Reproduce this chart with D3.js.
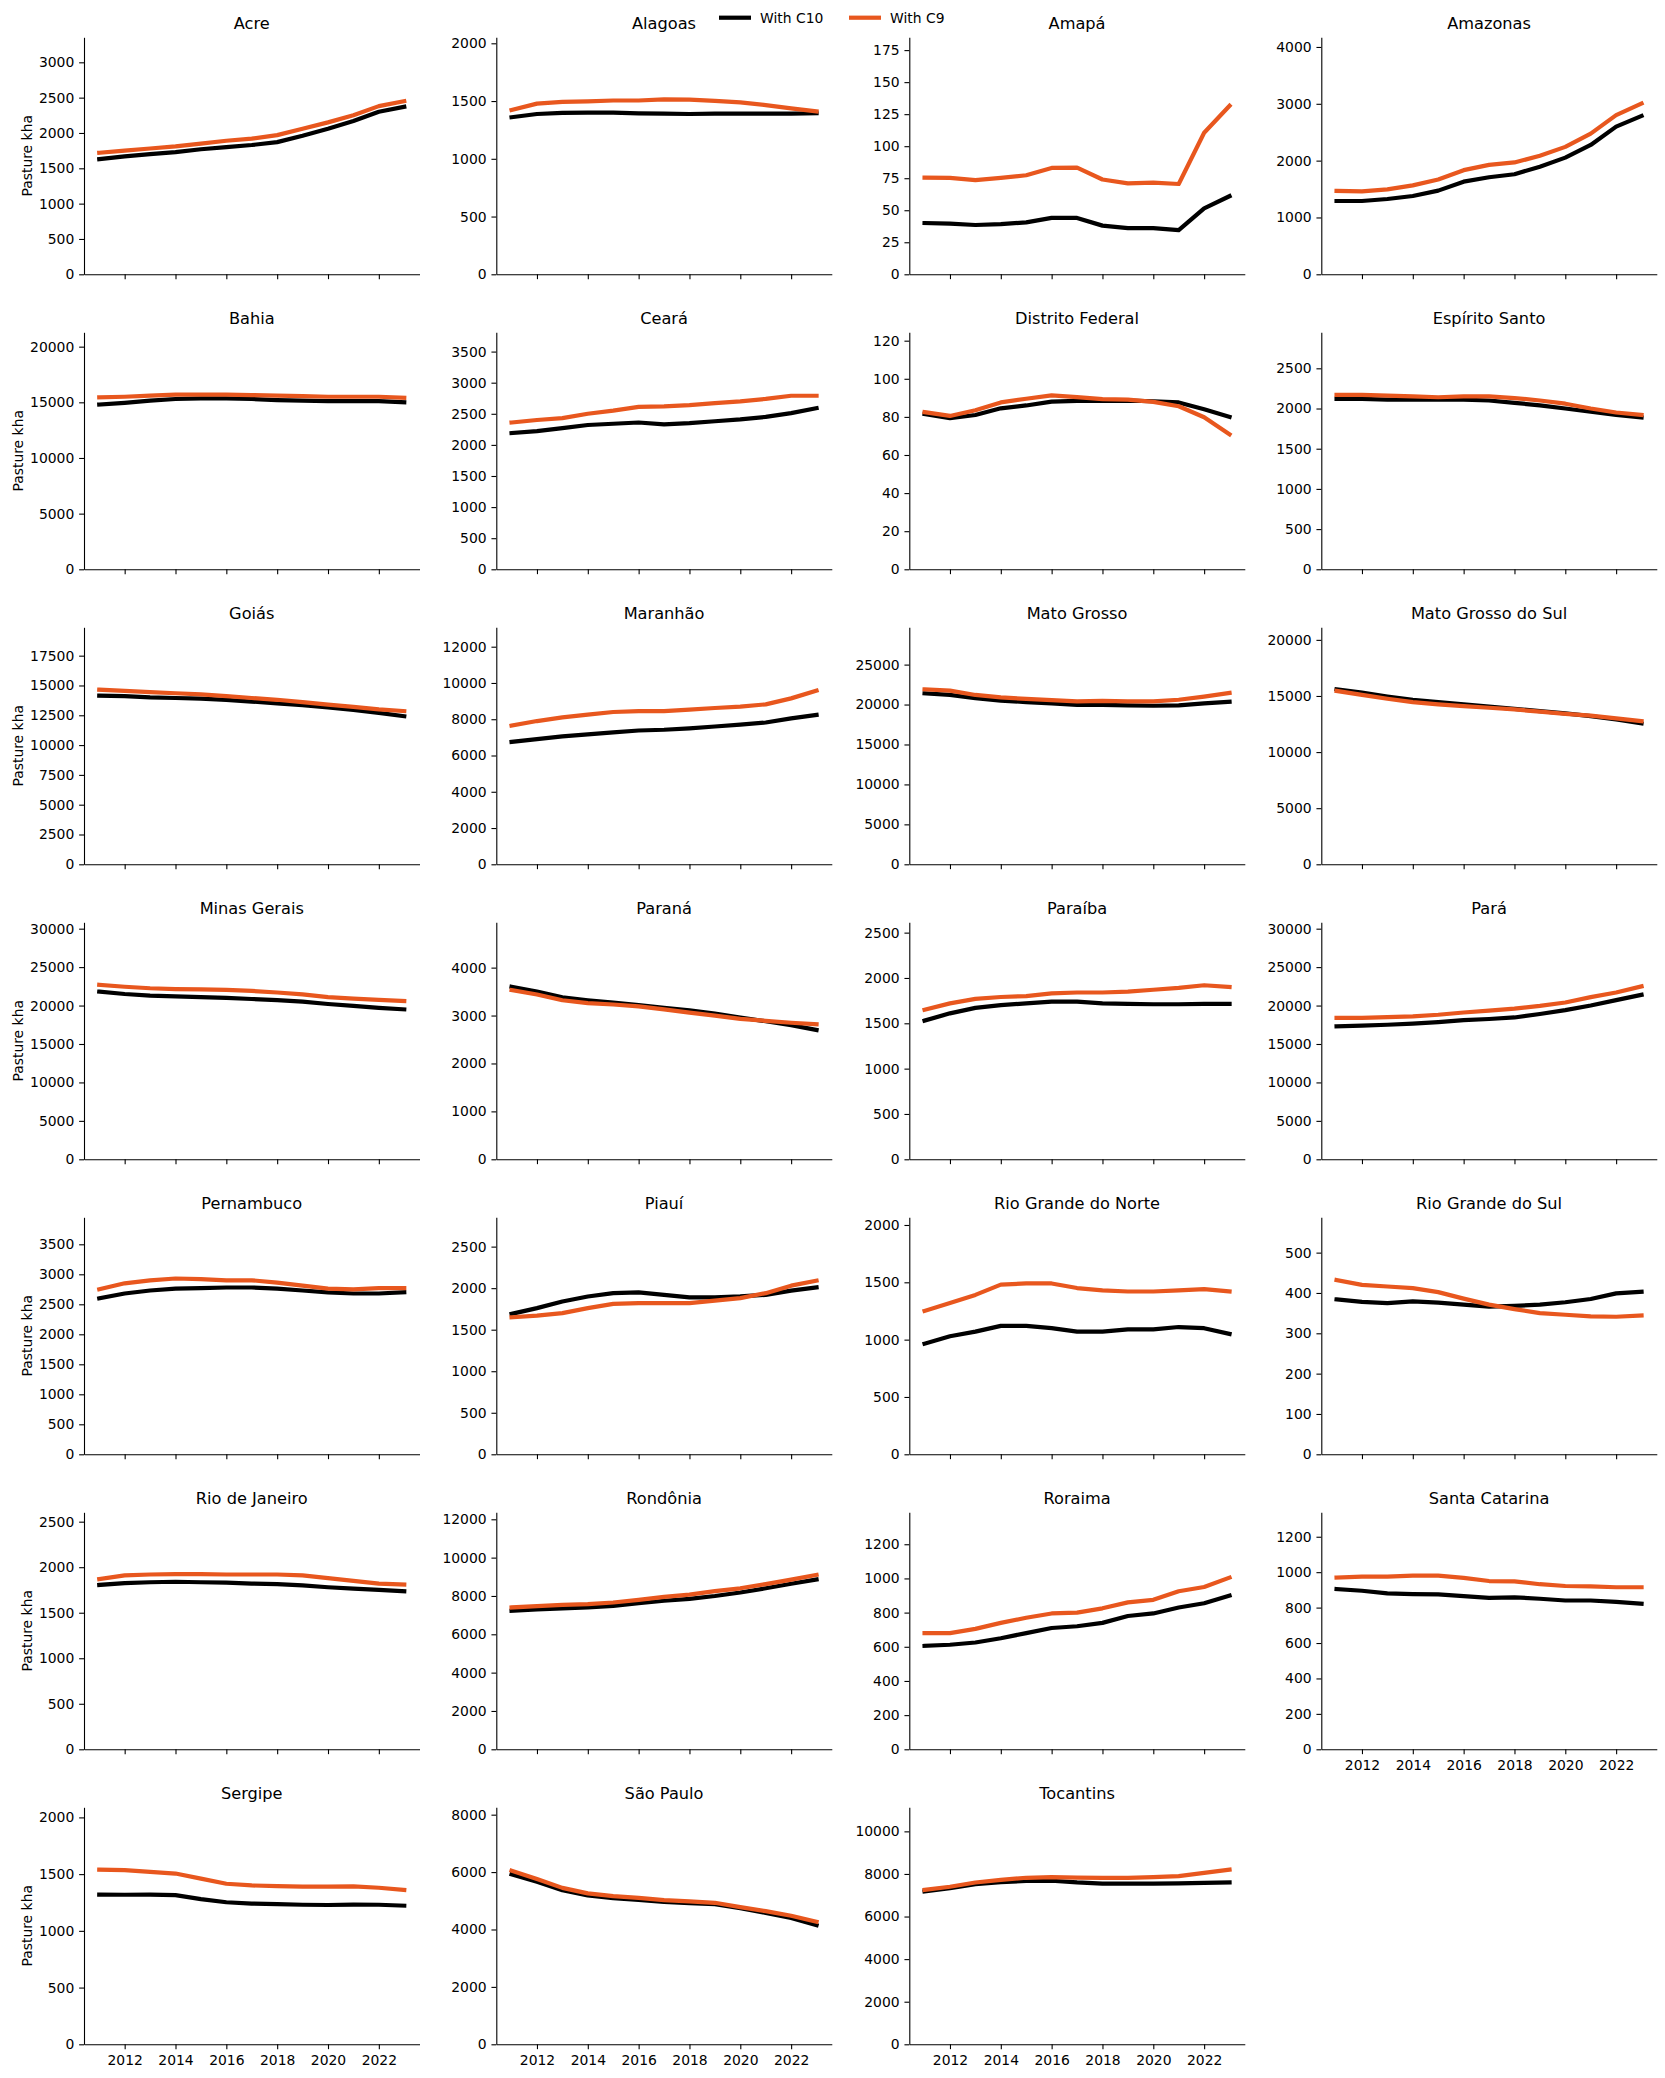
<!DOCTYPE html>
<html>
<head>
<meta charset="utf-8">
<script src="https://cdn.jsdelivr.net/npm/d3@7"></script>
<style>
  body { margin: 0; background: #fff; }
  svg { font-family: "DejaVu Sans", sans-serif; }
</style>
</head>
<body>
<div id="chart"></div>
<script>
// values, kha of pasture, 2011..2023
const years = d3.range(2011, 2024);
const xTicks = [2012, 2014, 2016, 2018, 2020, 2022];

const states = ['Acre', 'Alagoas', 'Amapá', 'Amazonas', 'Bahia', 'Ceará', 'Distrito Federal', 'Espírito Santo',
  'Goiás', 'Maranhão', 'Mato Grosso', 'Mato Grosso do Sul', 'Minas Gerais', 'Paraná', 'Paraíba', 'Pará',
  'Pernambuco', 'Piauí', 'Rio Grande do Norte', 'Rio Grande do Sul', 'Rio de Janeiro', 'Rondônia', 'Roraima',
  'Santa Catarina', 'Sergipe', 'São Paulo', 'Tocantins'];

const withC10 = [
  [1630, 1670, 1700, 1730, 1770, 1800, 1830, 1870, 1960, 2060, 2170, 2300, 2370],
  [1360, 1388, 1398, 1400, 1400, 1394, 1391, 1388, 1391, 1391, 1391, 1391, 1394],
  [40, 39.5, 38.5, 39.2, 40.5, 44, 44, 38, 36, 36, 34.5, 51.5, 61],
  [1290, 1290, 1325, 1378, 1472, 1630, 1707, 1760, 1894, 2053, 2276, 2598, 2786],
  [14800, 14950, 15150, 15300, 15350, 15350, 15300, 15200, 15150, 15100, 15100, 15100, 15000],
  [2190, 2220, 2270, 2320, 2340, 2360, 2330, 2350, 2380, 2410, 2450, 2510, 2590],
  [81.5, 79.3, 81, 84.5, 86, 88, 88.4, 88.4, 88.5, 88.2, 87.6, 84, 80],
  [2120, 2120, 2110, 2110, 2110, 2110, 2100, 2070, 2040, 2000, 1960, 1920, 1890],
  [14150, 14100, 14000, 13950, 13900, 13800, 13650, 13500, 13350, 13150, 12950, 12700, 12420],
  [6750, 6900, 7050, 7170, 7280, 7380, 7420, 7500, 7600, 7700, 7820, 8050, 8240],
  [21400, 21200, 20800, 20500, 20300, 20150, 19950, 19950, 19900, 19850, 19900, 20150, 20350],
  [15600, 15300, 14950, 14650, 14450, 14250, 14050, 13850, 13650, 13450, 13200, 12900, 12550],
  [21800, 21500, 21300, 21200, 21100, 21000, 20850, 20700, 20500, 20200, 19950, 19700, 19500],
  [3600, 3500, 3380, 3320, 3270, 3220, 3160, 3110, 3040, 2960, 2880, 2800, 2700],
  [1530, 1610, 1670, 1700, 1720, 1740, 1740, 1720, 1715, 1710, 1710, 1715, 1715],
  [17300, 17400, 17500, 17650, 17850, 18100, 18250, 18450, 18900, 19400, 20000, 20700, 21400],
  [2600, 2680, 2730, 2760, 2770, 2780, 2780, 2760, 2730, 2700, 2680, 2680, 2700],
  [1690, 1760, 1840, 1900, 1940, 1950, 1920, 1890, 1890, 1900, 1920, 1970, 2010],
  [965, 1030, 1070, 1120, 1120, 1100, 1070, 1070, 1090, 1090, 1110, 1100, 1050],
  [384, 378, 375, 379, 376, 371, 366, 368, 371, 377, 385, 399, 403],
  [1805, 1825, 1835, 1840, 1835, 1830, 1820, 1815, 1800, 1780, 1765, 1750, 1735],
  [7230, 7300, 7350, 7400, 7480, 7620, 7750, 7850, 8000, 8180, 8400, 8640, 8860],
  [605, 612, 625, 650, 680, 710, 720, 740, 780, 795, 830, 855, 900],
  [905, 895, 880, 876, 875, 865, 855, 858, 850, 840, 840, 832, 822],
  [1320, 1318, 1320, 1315, 1280, 1252, 1240, 1235, 1230, 1228, 1232, 1230, 1222],
  [5920, 5660, 5370, 5190, 5090, 5030, 4960, 4920, 4880, 4740, 4580, 4400, 4150],
  [7180, 7330, 7520, 7620, 7670, 7680, 7600, 7550, 7550, 7550, 7560, 7580, 7600]
];

const withC9 = [
  [1720, 1750, 1780, 1810, 1850, 1890, 1920, 1970, 2060, 2150, 2250, 2380, 2450],
  [1422, 1478, 1493, 1498, 1505, 1505, 1515, 1512, 1502, 1488, 1465, 1437, 1410],
  [75.5, 75.2, 73.5, 75.3, 77.3, 83, 83.2, 74, 71, 71.5, 70.5, 110.5, 131.5],
  [1468, 1460, 1494, 1565, 1668, 1832, 1925, 1968, 2085, 2242, 2476, 2800, 3006],
  [15450, 15500, 15600, 15700, 15700, 15700, 15650, 15600, 15550, 15500, 15500, 15500, 15400],
  [2360, 2400, 2430, 2500, 2550, 2610, 2620, 2640, 2670, 2700, 2740, 2790, 2790],
  [82.5, 80.5, 83.5, 87.6, 89.5, 91.3, 90.4, 89.3, 89.1, 87.9, 85.6, 79.8, 70.8],
  [2170, 2170, 2160, 2150, 2140, 2150, 2150, 2130, 2100, 2060, 2000, 1950, 1920],
  [14650, 14550, 14450, 14350, 14250, 14100, 13950, 13800, 13600, 13400, 13200, 13000, 12850],
  [7650, 7900, 8100, 8250, 8400, 8450, 8450, 8530, 8620, 8700, 8820, 9150, 9580],
  [21900, 21750, 21200, 20900, 20700, 20550, 20400, 20450, 20400, 20400, 20600, 21000, 21450],
  [15450, 15100, 14750, 14450, 14250, 14100, 13950, 13800, 13600, 13400, 13250, 13000, 12750],
  [22700, 22450, 22250, 22150, 22100, 22050, 21900, 21700, 21450, 21100, 20900, 20750, 20600],
  [3530, 3440, 3320, 3260, 3230, 3190, 3130, 3060, 3000, 2930, 2890, 2850, 2820],
  [1650, 1720, 1770, 1790, 1800, 1830, 1840, 1840, 1850, 1870, 1890, 1920, 1900],
  [18400, 18400, 18500, 18600, 18800, 19100, 19350, 19600, 19950, 20400, 21100, 21700, 22500],
  [2750, 2850, 2900, 2930, 2920, 2900, 2900, 2860, 2810, 2760, 2750, 2770, 2770],
  [1650, 1670, 1700, 1760, 1810, 1820, 1820, 1820, 1850, 1880, 1940, 2030, 2090],
  [1250, 1320, 1390, 1480, 1490, 1490, 1450, 1430, 1420, 1420, 1430, 1440, 1420],
  [432, 420, 416, 412, 402, 386, 371, 360, 350, 346, 342, 341, 344],
  [1870, 1910, 1920, 1925, 1925, 1920, 1920, 1920, 1910, 1880, 1850, 1820, 1810],
  [7400, 7470, 7530, 7570, 7660, 7800, 7950, 8070, 8250, 8400, 8620, 8850, 9100],
  [680, 680, 705, 740, 770, 795, 800, 825, 860, 875, 925, 950, 1005],
  [970, 975, 975, 980, 980, 968, 950, 948, 932, 922, 920, 915, 915],
  [1540, 1535, 1520, 1505, 1460, 1415, 1400, 1395, 1390, 1390, 1392, 1380, 1360],
  [6050, 5760, 5450, 5260, 5160, 5100, 5020, 4980, 4930, 4780, 4640, 4480, 4270],
  [7250, 7400, 7600, 7720, 7820, 7850, 7830, 7820, 7820, 7850, 7900, 8050, 8200]
];

// top of each y axis and the spacing of its ticks
const yMax = [3354, 2052, 185, 4170, 21290, 3810, 124.4, 2948, 19880, 13070, 29670, 21120, 30830, 4946,
  2614, 30830, 3950, 2853, 2067, 587.6, 2603, 12365, 1387, 1338, 2089, 8257, 11130];
const yStep = [500, 500, 25, 1000, 5000, 500, 20, 500, 2500, 2000, 5000, 5000, 5000, 1000,
  500, 5000, 500, 500, 500, 100, 500, 2000, 200, 200, 500, 2000, 2000];

const seriesNames = ['With C10', 'With C9'];
const seriesColors = ['#000000', '#e8571e'];

const W = 1665, H = 2078;
const NCOL = 4;
const colLeft = [84, 496.3, 909.3, 1321.3];
const PW = 335.5, PH = 237;
const TOP = 37.3, ROWSTEP = 295;
const FONT = 13.9, TITLE_FONT = 16.2;
const TICK = 4.86;

const svg = d3.select('#chart').append('svg')
  .attr('width', W)
  .attr('height', H);

// last panel in each column gets the year labels
const lastInCol = [];
states.forEach((s, i) => { lastInCol[i % NCOL] = i; });

states.forEach((name, i) => {
  const col = i % NCOL, row = Math.floor(i / NCOL);
  const g = svg.append('g')
    .attr('transform', `translate(${colLeft[col]}, ${TOP + row * ROWSTEP})`);

  const x = d3.scaleLinear().domain([2010.4, 2023.6]).range([0, PW]);
  const y = d3.scaleLinear().domain([0, yMax[i]]).range([PH, 0]);

  const showYears = lastInCol[col] === i;
  const xAxis = g.append('g')
    .attr('transform', `translate(0, ${PH})`)
    .call(d3.axisBottom(x).tickValues(xTicks).tickSize(TICK).tickSizeOuter(0).tickPadding(4.86)
      .tickFormat(showYears ? d3.format('d') : () => ''));

  const yTicks = d3.range(0, yMax[i] + 1e-9, yStep[i]);
  const yAxis = g.append('g')
    .call(d3.axisLeft(y).tickValues(yTicks).tickSize(TICK).tickSizeOuter(0).tickPadding(4.86)
      .tickFormat(d3.format('d')));

  [xAxis, yAxis].forEach(a => {
    a.selectAll('text').attr('font-size', FONT).attr('fill', '#000')
      .attr('font-family', '"DejaVu Sans", sans-serif');
    a.selectAll('line').attr('stroke', '#000').attr('stroke-width', 1.1);
    a.select('.domain').attr('stroke', '#000').attr('stroke-width', 1.1);
  });
  xAxis.selectAll('text').attr('dy', '0.78em');

  const line = d3.line()
    .x((d, k) => x(years[k]))
    .y(d => y(d));

  [withC10[i], withC9[i]].forEach((vals, s) => {
    g.append('path')
      .attr('d', line(vals))
      .attr('fill', 'none')
      .attr('stroke', seriesColors[s])
      .attr('stroke-width', 4.2)
      .attr('stroke-linejoin', 'round')
      .attr('stroke-linecap', 'square');
  });

  g.append('text')
    .attr('x', PW / 2)
    .attr('y', -8.3)
    .attr('text-anchor', 'middle')
    .attr('font-size', TITLE_FONT)
    .text(name);

  if (col === 0) {
    // ylabel sits just left of the widest tick label
    const labelsLeft = d3.min(yAxis.selectAll('text').nodes(), n => n.getBBox().x);
    g.append('text')
      .attr('transform', `translate(${labelsLeft - 7}, ${PH / 2}) rotate(-90)`)
      .attr('text-anchor', 'middle')
      .attr('font-size', FONT)
      .text('Pasture kha');
  }
});

// legend across the top
const legendX = [719, 849];
seriesNames.forEach((n, s) => {
  const lg = svg.append('g').attr('transform', `translate(${legendX[s]}, 17.7)`);
  lg.append('line')
    .attr('x1', 0).attr('x2', 32)
    .attr('stroke', seriesColors[s])
    .attr('stroke-width', 4.2);
  lg.append('text')
    .attr('x', 41)
    .attr('dy', '0.35em')
    .attr('font-size', FONT)
    .text(n);
});
</script>
</body>
</html>
